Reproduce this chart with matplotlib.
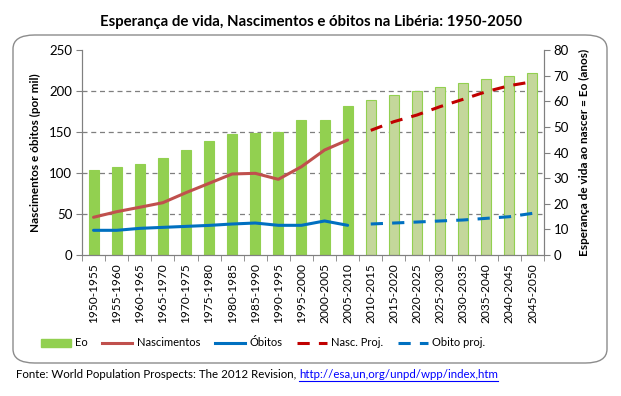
import numpy as np
import matplotlib
matplotlib.use("Agg")
import matplotlib.pyplot as plt
from matplotlib.patches import FancyBboxPatch, Patch
from matplotlib.lines import Line2D

plt.rcParams['font.family'] = ['Lato', 'DejaVu Sans']

# periodos quinquenais
periods = ['1950-1955', '1955-1960', '1960-1965', '1965-1970', '1970-1975',
           '1975-1980', '1980-1985', '1985-1990', '1990-1995', '1995-2000',
           '2000-2005', '2005-2010', '2010-2015', '2015-2020', '2020-2025',
           '2025-2030', '2030-2035', '2035-2040', '2040-2045', '2045-2050']

# esperanca de vida ao nascer (anos)
eo = [33.2, 34.3, 35.5, 37.9, 41.0, 44.5, 47.2, 47.6, 48.1, 52.7,
      52.7, 58.1, 60.5, 62.4, 64.0, 65.6, 67.1, 68.7, 69.9, 71.0]
n_obs = 12  # primeiros 12 periodos = estimativas, resto = projecoes

# nascimentos e obitos (por mil) - estimativas
nasc = [46, 52.8, 58.2, 63.8, 76, 87.4, 98.8, 99.6, 92.3, 107.7, 128, 140.2]
obit = [30.1, 30.1, 32.5, 33.7, 34.9, 36.1, 37.8, 39, 36.2, 36.2, 41.5, 36.2]

# projecoes
nasc_proj = [152, 162.6, 170.7, 180.9, 189.9, 199.2, 206.5, 211.3]
obit_proj = [37.8, 39, 40.2, 41.5, 42.7, 44.7, 46.7, 50.8]

green = '#92D050'
green_light = '#C4D79B'
red = '#C0504D'
red_proj = '#C00000'
blue = '#0070C0'

fig = plt.figure(figsize=(6.21, 3.96), dpi=100)

# moldura arredondada
box = FancyBboxPatch((13 / 621, 1 - 363 / 396), (607 - 13) / 621, (363 - 35) / 396,
                     boxstyle='round,pad=0,rounding_size=0.035', transform=fig.transFigure,
                     facecolor='none', edgecolor='#8c8c8c', lw=1.0, zorder=-1)
fig.patches.append(box)

ax = fig.add_axes([82 / 621, 1 - 255 / 396, (544 - 82) / 621, (255 - 50) / 396])
ax.patch.set_visible(False)
axL = ax.twinx()

x = np.arange(len(periods))

# barras Eo (eixo da direita)
cols = [green] * n_obs + [green_light] * (len(periods) - n_obs)
ax.bar(x, eo, width=0.43, color=cols, edgecolor=green, linewidth=0.8, zorder=2)
ax.set_ylim(0, 80)
ax.set_yticks(np.arange(0, 81, 10))
ax.yaxis.tick_right()
ax.yaxis.set_label_position('right')
# grelha alinhada com os ticks do eixo da esquerda (50, 100, ...)
ax.set_yticks(np.linspace(0, 80, 6), minor=True)
ax.grid(which='minor', axis='y', linestyle=(0, (4, 3)), color='#7f7f7f', lw=0.9)
ax.set_axisbelow(True)
ax.tick_params(axis='y', which='minor', length=0)
ax.tick_params(axis='y', which='major', length=4, color='#808080', labelsize=9.5, pad=3)
ax.set_ylabel('Esperança de vida ao nascer = Eo (anos)', fontsize=8.5, fontweight='bold', labelpad=7)

# linhas (eixo da esquerda)
axL.yaxis.tick_left()
axL.yaxis.set_label_position('left')
axL.plot(x[:n_obs], nasc, color=red, lw=2.2, solid_capstyle='round')
axL.plot(x[:n_obs], obit, color=blue, lw=2.2, solid_capstyle='round')
axL.plot(x[n_obs:], nasc_proj, color=red_proj, lw=2.2, dashes=(4, 3))
axL.plot(x[n_obs:], obit_proj, color=blue, lw=2.2, dashes=(4, 3))
axL.set_ylim(0, 250)
axL.set_yticks(np.arange(0, 251, 50))
axL.tick_params(axis='y', length=4, color='#808080', labelsize=9.5, pad=3)
axL.set_ylabel('Nascimentos e óbitos (por mil)', fontsize=8.5, fontweight='bold', labelpad=6)

ax.set_xlim(-0.5, len(periods) - 0.5)
ax.set_xticks(x)
ax.set_xticklabels(periods, rotation=90, fontsize=8.6)
ax.set_xticks(np.arange(-0.5, len(periods), 1), minor=True)
ax.tick_params(axis='x', which='major', length=0, pad=6)
ax.tick_params(axis='x', which='minor', length=4, color='#808080')

for a in (ax, axL):
    a.spines['top'].set_visible(False)
    for side in ('left', 'right', 'bottom'):
        a.spines[side].set_color('#808080')

fig.text(0.5, 1 - 22 / 396, 'Esperança de vida, Nascimentos e óbitos na Libéria: 1950-2050',
         ha='center', va='center', fontsize=10.8, fontweight='bold')

handles = [Patch(facecolor=green, edgecolor=green),
           Line2D([], [], color=red, lw=2.2),
           Line2D([], [], color=blue, lw=2.2),
           Line2D([], [], color=red_proj, lw=2.2, dashes=(4, 3)),
           Line2D([], [], color=blue, lw=2.2, dashes=(4, 3))]
labels = ['Eo', 'Nascimentos', 'Óbitos', 'Nasc. Proj.', 'Obito proj.']
fig.legend(handles, labels, loc='center', bbox_to_anchor=(263 / 621, 1 - 343 / 396), ncol=5,
           frameon=False, fontsize=8, handlelength=2.7, handletextpad=0.4, columnspacing=1.3)

# fonte com link sublinhado
src = fig.text(16 / 621, 1 - 375 / 396, 'Fonte: World Population Prospects: The 2012 Revision, ',
               ha='left', va='center', fontsize=8.3)
fig.canvas.draw()
r = fig.canvas.get_renderer()
bb = src.get_window_extent(r)
x1 = bb.x1 / fig.bbox.width
link = fig.text(x1, 1 - 375 / 396, 'http://esa,un,org/unpd/wpp/index,htm',
                ha='left', va='center', fontsize=8.3, color='#0000FF')
lb = link.get_window_extent(r)
fig.add_artist(Line2D([lb.x0 / fig.bbox.width, lb.x1 / fig.bbox.width],
                      [lb.y0 / fig.bbox.height - 0.002] * 2, color='#0000FF', lw=0.8,
                      transform=fig.transFigure))

fig.savefig('out.png', dpi=100)
